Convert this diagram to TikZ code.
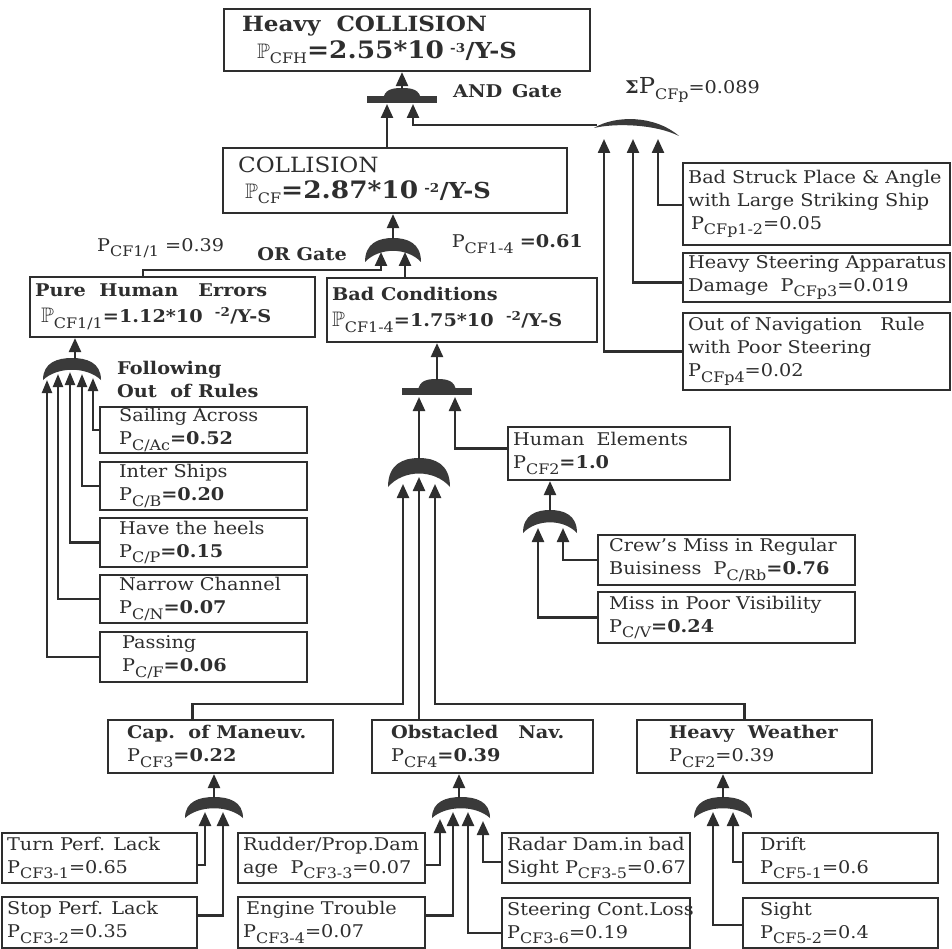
\documentclass[tikz,border=0pt]{standalone}
\usepackage{fontspec}
\setmainfont{DejaVu Serif}[FakeStretch=1.1]
\usepackage{amssymb}
\usetikzlibrary{arrows.meta}
\definecolor{ink}{HTML}{2E2E2E}
\definecolor{gatec}{HTML}{3A3A3A}
\newcommand\Sb[1]{\raisebox{-0.32em}{\fontsize{14.5}{14.5}\selectfont #1}}
\newcommand\PP{{\fontsize{21}{21}\selectfont$\mathbb{P}$}}
\newcommand\bx[6]{%
 \node[box,minimum width={(#4-#2)*1pt},minimum height={(#5-#3)*1pt}] (#1) at ({(#2+#4)/2},{(#3+#5)/2}) {};
 \node[txt,anchor=west] (#1t) at ([xshift=6pt]#1.west) {#6};}
\newcommand\ORgate[4]{%
 \fill[gatec] ({#1-#3},{#2}) .. controls ({#1-#3},{#2-0.8*#4}) and ({#1-0.5*#3},{#2-#4}) .. ({#1},{#2-#4}) .. controls ({#1+0.5*#3},{#2-#4}) and ({#1+#3},{#2-0.8*#4}) .. ({#1+#3},{#2}) .. controls ({#1+0.5*#3},{#2-0.62*#4}) and ({#1-0.5*#3},{#2-0.62*#4}) .. ({#1-#3},{#2}) -- cycle;}
\newcommand\ANDgate[2]{%
 \fill[gatec] ({#1-35},{#2-3.5}) rectangle ({#1+35},{#2+3.5});
 \fill[gatec] ({#1-19},{#2}) .. controls ({#1-18},{#2-11}) and ({#1-9},{#2-12}) .. ({#1},{#2-12}) .. controls ({#1+9},{#2-12}) and ({#1+18},{#2-11}) .. ({#1+19},{#2}) -- cycle;}
\begin{document}
\begin{tikzpicture}[x=1pt,y=-1pt,
  box/.style={draw=ink,line width=2.2pt,fill=white,inner sep=0pt},
  txt/.style={inner sep=0pt,align=left,font=\fontsize{17.5}{23}\selectfont,text=ink},
  conn/.style={draw=ink,line width=2.4pt,-{Triangle[width=12pt,length=14pt]}},
  connn/.style={draw=ink,line width=2.2pt,-{Triangle[width=10pt,length=13pt]}}]
\fill[white] (0,0) rectangle (952,949);
\useasboundingbox (0,0) rectangle (952,949);

% ---------- boxes ----------
\bx{top}{224}{9}{590}{71}{\hspace*{13pt}\textbf{\fontsize{21}{21}\selectfont Heavy\ \ COLLISION}\\[4pt]
 \hspace*{28pt}\PP\Sb{CFH}{\fontsize{24}{24}\selectfont\bfseries =2.55*10}\ \textsuperscript{\bfseries -3}{\fontsize{22}{22}\selectfont\bfseries/Y-S}}
\bx{coll}{223}{148}{567}{213}{\hspace*{10pt}{\fontsize{21}{21}\selectfont COLLISION}\\[3pt]
 \hspace*{17pt}\PP\Sb{CF}{\fontsize{24}{24}\selectfont\bfseries =2.87*10}\ \textsuperscript{\bfseries -2}{\fontsize{22}{22}\selectfont\bfseries/Y-S}}
\bx{phe}{30}{277}{315}{337}{\textbf{Pure\ \ Human\ \ \ Errors}\\[3pt]
 \hspace*{6pt}\PP\Sb{CF1/1}\textbf{=1.12*10}\ \ \textsuperscript{\bfseries -2}\textbf{/Y-S}}
\bx{bad}{327}{278}{597}{342}{\textbf{Bad Conditions}\\[3pt]
 \PP\Sb{CF1-4}\textbf{=1.75*10}\ \ \textsuperscript{\bfseries -2}\textbf{/Y-S}}
\bx{bsp}{683}{163}{950}{245}{Bad Struck Place \& Angle\\with Large Striking Ship\\ \,P\Sb{CFp1-2}=0.05}
\bx{hsa}{683}{253}{950}{302}{Heavy Steering Apparatus\\Damage\ \ P\Sb{CFp3}=0.019}
\bx{onr}{683}{313}{950}{390}{Out of Navigation\ \ \ Rule\\with Poor Steering\\P\Sb{CFp4}=0.02}
\bx{he}{508}{427}{730}{480}{Human\ \ Elements\\P\Sb{CF2}\textbf{=1.0}}
\bx{sail}{100}{407}{307}{453}{\hspace*{14pt}Sailing Across\\\hspace*{14pt}P\Sb{C/Ac}\textbf{=0.52}}
\bx{inter}{100}{462}{307}{510}{\hspace*{14pt}Inter Ships\\\hspace*{14pt}P\Sb{C/B}\textbf{=0.20}}
\bx{heels}{100}{518}{307}{567}{\hspace*{14pt}Have the heels\\\hspace*{14pt}P\Sb{C/P}\textbf{=0.15}}
\bx{narrow}{100}{575}{307}{623}{\hspace*{14pt}Narrow Channel\\\hspace*{14pt}P\Sb{C/N}\textbf{=0.07}}
\bx{pass}{100}{632}{307}{682}{\hspace*{17pt}Passing\\\hspace*{17pt}P\Sb{C/F}\textbf{=0.06}}
\bx{crew}{598}{535}{855}{585}{\hspace*{6pt}Crew's Miss in Regular\\\hspace*{6pt}Buisiness\ \ P\Sb{C/Rb}\textbf{=0.76}}
\bx{miss}{598}{592}{855}{643}{\hspace*{6pt}Miss in Poor Visibility\\\hspace*{6pt}P\Sb{C/V}\textbf{=0.24}}
\bx{cap}{108}{720}{333}{773}{\hspace*{14pt}\textbf{Cap.\ \ of Maneuv.}\\\hspace*{14pt}P\Sb{CF3}\textbf{=0.22}}
\bx{obs}{372}{720}{593}{773}{\hspace*{14pt}\textbf{Obstacled\ \ \ Nav.}\\\hspace*{14pt}P\Sb{CF4}\textbf{=0.39}}
\bx{hw}{637}{720}{872}{773}{\hspace*{27pt}\textbf{Heavy\ \ Weather}\\\hspace*{27pt}P\Sb{CF2}=0.39}
\bx{turn}{2}{833}{197}{883}{Turn Perf. Lack\\P\Sb{CF3-1}=0.65}
\bx{stop}{2}{897}{197}{948}{Stop Perf. Lack\\P\Sb{CF3-2}=0.35}
\bx{rudder}{238}{833}{425}{883}{Rudder/Prop.Dam\\age\ \ P\Sb{CF3-3}=0.07}
\bx{engine}{238}{897}{425}{948}{\hspace*{3pt}Engine Trouble\\P\Sb{CF3-4}=0.07}
\bx{radar}{502}{833}{690}{883}{Radar Dam.in bad\\Sight P\Sb{CF3-5}=0.67}
\bx{steer}{502}{898}{690}{948}{Steering Cont.Loss\\P\Sb{CF3-6}=0.19}
\bx{drift}{743}{833}{938}{883}{\hspace*{12pt}Drift\\\hspace*{12pt}P\Sb{CF5-1}=0.6}
\bx{sight}{743}{898}{938}{948}{\hspace*{12pt}Sight\\\hspace*{12pt}P\Sb{CF5-2}=0.4}

% ---------- free labels ----------
\node[txt,anchor=west] (andlab) at (453,91) {\textbf{AND\, Gate}};
\node[txt,anchor=west] (sumlab) at (625,90) {\textbf{Σ}{\fontsize{22}{22}\selectfont P}\Sb{CFp}=0.089};
\node[txt,anchor=east] (orlab) at (347,254) {\textbf{OR Gate}};
\node[txt,anchor=west] (p11lab) at (97,248) {P\Sb{CF1/1}\ =0.39};
\node[txt,anchor=east] (p14lab) at (583,244) {P\Sb{CF1-4}\ \textbf{=0.61}};
\node[txt,anchor=north west] (follab) at (117,361) {\textbf{Following}\\\textbf{Out\ \ of Rules}};

% ---------- gates ----------
\ANDgate{402}{100}
\fill[gatec] (594,128) .. controls (615,115) and (655,115) .. (679,136) .. controls (655,124) and (615,123) .. (594,128) -- cycle;
\ORgate{393}{262}{28}{24}
\ANDgate{437}{391}
\ORgate{419}{487}{31}{29}
\ORgate{550}{533}{27}{23}
\ORgate{72}{380}{29}{22}
\ORgate{214}{818}{29}{21}
\ORgate{461}{818}{29}{21}
\ORgate{723}{818}{29}{21}

% ---------- gate ports ----------
\coordinate (and1o) at (402,89);
\coordinate (and1a) at (387,104);
\coordinate (and1b) at (413,104);
\coordinate (sumo) at (597,125);
\coordinate (sga) at (604,139);
\coordinate (sgb) at (633,139);
\coordinate (sgc) at (658,139);
\coordinate (or1o) at (393,239);
\coordinate (or1a) at (381,252);
\coordinate (or1b) at (405,252);
\coordinate (phex) at (143,270);
\coordinate (and2o) at (437,380);
\coordinate (and2a) at (419,397);
\coordinate (and2b) at (455,397);
\coordinate (or2o) at (419,459);
\coordinate (or2a) at (403,484);
\coordinate (or2b) at (419,477);
\coordinate (or2c) at (435,484);
\coordinate (oheo) at (550,511);
\coordinate (ohea) at (538,528);
\coordinate (oheb) at (563,528);
\coordinate (opho) at (75,359);
\coordinate (opa) at (47,380);
\coordinate (opb) at (58,374);
\coordinate (opc) at (70,372);
\coordinate (opd) at (82,374);
\coordinate (ope) at (93,378);
\coordinate (ocapo) at (214,798);
\coordinate (ocapa) at (205,812);
\coordinate (ocapb) at (223,812);
\coordinate (oobso) at (459,798);
\coordinate (oobsa) at (440,819);
\coordinate (oobsb) at (453,812);
\coordinate (oobsc) at (468,812);
\coordinate (oobsd) at (483,821);
\coordinate (ohwo) at (723,798);
\coordinate (ohwa) at (713,812);
\coordinate (ohwb) at (733,812);

% ---------- connectors ----------
\draw[conn] (and1o) -- (and1o |- top.south);
\draw[conn] (coll.north -| and1a) -- (and1a);
\draw[conn] (sumo) -| (and1b);
\draw[conn] ([yshift=-1pt]bsp.west) -| (sgc);
\draw[conn] ([yshift=-5pt]hsa.west) -| (sgb);
\draw[conn] (onr.west) -| (sga);
\draw[conn] (or1o) -- (or1o |- coll.south);
\draw[conn] (phe.north -| phex) -- (phex) -| (or1a);
\draw[conn] (bad.north -| or1b) -- (or1b);
\draw[conn] (and2o) -- (and2o |- bad.south);
\draw[conn] (or2o) -- (and2a);
\draw[conn] ([yshift=5pt]he.west) -| (and2b);
\draw[conn] (oheo) -- (oheo |- he.south);
\draw[conn] (crew.west) -| (oheb);
\draw[conn] (miss.west) -| (ohea);
\draw[conn] (opho) -- (opho |- phe.south);
\draw[connn] (sail.west) -| (ope);
\draw[connn] (inter.west) -| (opd);
\draw[connn] (heels.west) -| (opc);
\draw[connn] (narrow.west) -| (opb);
\draw[connn] (pass.west) -| (opa);
\draw[conn] ([xshift=-28pt]cap.north) -- ++(0,-15) -| (or2a);
\draw[conn] (obs.north -| or2b) -- (or2b);
\draw[conn] ([xshift=-10pt]hw.north) -- ++(0,-15) -| (or2c);
\draw[conn] (ocapo) -- (ocapo |- cap.south);
\draw[conn] ([yshift=-7pt]turn.east) -| (ocapa);
\draw[conn] ([yshift=7pt]stop.east) -| (ocapb);
\draw[conn] (oobso) -- (oobso |- obs.south);
\draw[conn] ([yshift=-7pt]rudder.east) -| (oobsa);
\draw[conn] ([yshift=7pt]engine.east) -| (oobsb);
\draw[conn] ([yshift=-10pt]steer.west) -| (oobsc);
\draw[conn] ([yshift=-4pt]radar.west) -| (oobsd);
\draw[conn] (ohwo) -- (ohwo |- hw.south);
\draw[conn] ([yshift=-4pt]drift.west) -| (ohwb);
\draw[conn] ([yshift=-2pt]sight.west) -| (ohwa);
\end{tikzpicture}
\end{document}
